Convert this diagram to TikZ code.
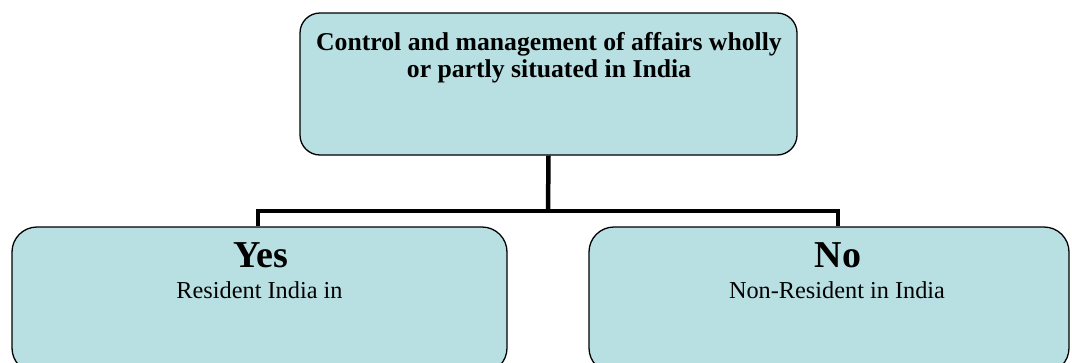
\documentclass[tikz,border=0pt]{standalone}
\usepackage{fontspec}
\setmainfont{Liberation Serif}
\definecolor{boxfill}{HTML}{B8DFE2}
\begin{document}
\begin{tikzpicture}[x=1pt,y=-1pt,
  box/.style={draw=black, line width=1.3pt, fill=boxfill, rounded corners=20pt, inner sep=0pt},
  link/.style={draw=black, line width=4.5pt},
  head/.style={font=\fontsize{38}{42}\selectfont\bfseries, anchor=base, inner sep=0pt},
  sub/.style={font=\fontsize{24.3}{28}\selectfont, anchor=base, inner sep=0pt},
  title/.style={font=\fontsize{25.7}{27}\selectfont\bfseries, anchor=base, inner sep=0pt}]
\useasboundingbox (0,0) rectangle (1072,362);
\clip (0,0) rectangle (1072,362);

% boxes
\node[box, minimum width=497pt, minimum height=142pt] (top) at (548.5,84) {};
\node[box, rounded corners=25pt, minimum width=495pt, minimum height=146pt] (yes) at (259.5,300) {};
\node[box, rounded corners=25pt, minimum width=480pt, minimum height=146pt] (no) at (829,300) {};

% branching connector
\coordinate (mid) at (548,211);
\coordinate (lft) at (258,211);
\coordinate (rgt) at (838,211);
\draw[link] (top.south) -- (mid);
\draw[link, line join=miter] (yes.north -| lft) -- (lft) -- (rgt) -- (no.north -| rgt);

% texts
\node[title] (t1) at (549,50) {Control and management of affairs wholly};
\node[title] (t2) at (549,77) {or partly situated in India};
\node[head] (yeshead) at (260.5,267) {Yes};
\node[sub] (yessub) at (259.5,298) {Resident India in};
\node[head] (nohead) at (838,267) {No};
\node[sub] (nosub) at (837,298) {Non-Resident in India};
\end{tikzpicture}
\end{document}
